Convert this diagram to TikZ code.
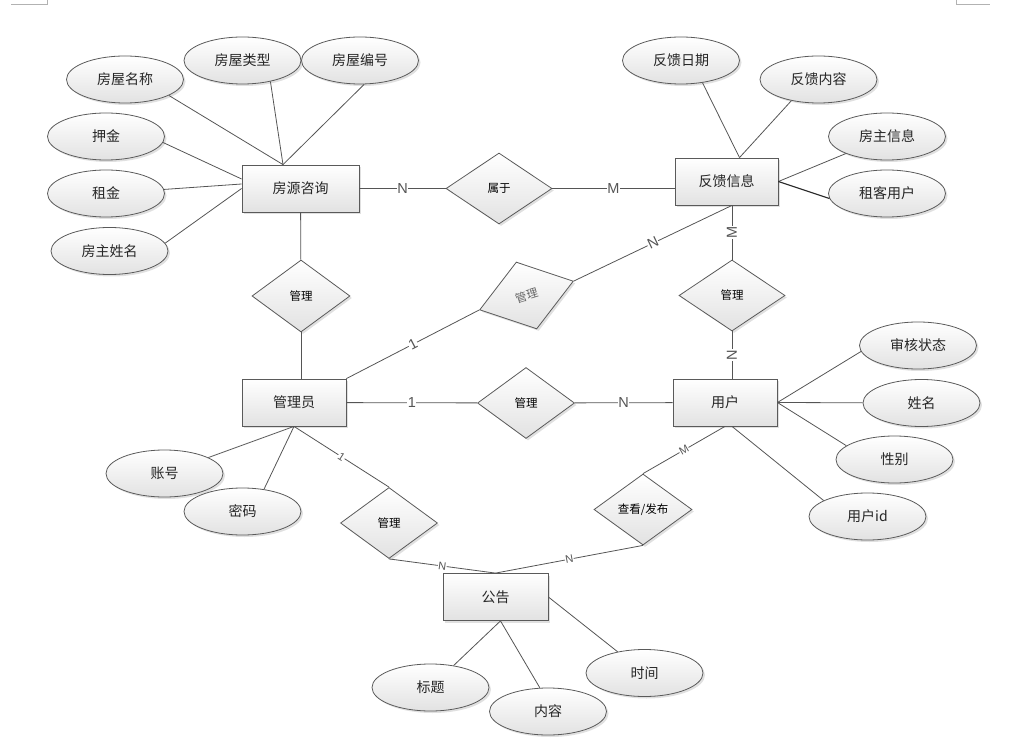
\documentclass[tikz,border=0pt]{standalone}
\usepackage{fontspec}
\setmainfont{Noto Sans CJK SC}
\newfontfamily\lat{Liberation Sans}
\usetikzlibrary{shapes.geometric,shadows}
\definecolor{lnc}{HTML}{555555}
\definecolor{bd}{HTML}{5A5A5A}
\definecolor{fl}{HTML}{E2E2E2}

\begin{document}
\begin{tikzpicture}[x=1pt,y=-1pt,line width=.8pt]
\tikzstyle{sh}=[draw=bd,top color=white,bottom color=fl,text=black!85,drop shadow={shadow xshift=2pt,shadow yshift=-2pt,fill=black!20,opacity=.6}]
\tikzstyle{ent}=[sh,rectangle,minimum width=104pt,minimum height=47pt,inner sep=0pt,font=\fontsize{14}{16}\selectfont]
\tikzstyle{att}=[sh,ellipse,minimum width=117pt,minimum height=47pt,inner sep=0pt,font=\fontsize{14}{16}\selectfont]
\tikzstyle{rel}=[sh,diamond,aspect=1.5,minimum width=98pt,minimum height=71pt,inner sep=0pt,text=black,font=\fontsize{11.5}{13}\selectfont]
\tikzstyle{lbl}=[fill=white,inner sep=.5pt,font=\lat\fontsize{14.5}{14}\selectfont]
\tikzstyle{sl}=[lbl,sloped,font=\lat\fontsize{11}{11}\selectfont]
\useasboundingbox (0,0) rectangle (1028,751);
\draw[black!30,line width=.6pt] (11,4) -- (47,4) -- (47,0);
\draw[black!30,line width=.6pt] (956,0) -- (956,4) -- (990,4);

\node[ent,minimum width=117pt] (fy) at (300.5,188.5) {房源咨询};
\node[ent,minimum width=103pt] (fk) at (726.5,181.5) {反馈信息};
\node[ent] (gly) at (294,402.5) {管理员};
\node[ent] (yh) at (725,402.5) {用户};
\node[ent,minimum width=105pt] (gg) at (495.5,597) {公告};

\node[rel,minimum width=106pt] (sy) at (499,188.5) {属于};
\node[rel,minimum height=72pt] (gl) at (301,296) {管理};
\node[rel,rotate=17,minimum height=70pt,text=black!60] (gt) at (526.5,295.5) {管理};
\node[rel,minimum width=106pt] (gr) at (732,295.5) {管理};
\node[rel,minimum width=97pt] (gm) at (526,403) {管理};
\node[rel,minimum width=97pt] (gb) at (389,523) {管理};
\node[rel] (ck) at (643,509.5) {查看/发布};

\node[att] (a1) at (125,79.5) {房屋名称};
\node[att] (a2) at (242.5,60.5) {房屋类型};
\node[att] (a3) at (360,60.5) {房屋编号};
\node[att] (a4) at (106,136.5) {押金};
\node[att] (a5) at (106,193.5) {租金};
\node[att] (a6) at (109.5,251) {房主姓名};
\node[att] (b1) at (681,60.5) {反馈日期};
\node[att] (b2) at (818.5,79.5) {反馈内容};
\node[att] (b3) at (887,136.5) {房主信息};
\node[att] (b4) at (887,193.5) {租客用户};
\node[att] (c1) at (918,345.5) {审核状态};
\node[att] (c2) at (921.5,403) {姓名};
\node[att] (c3) at (894.5,459.5) {性别};
\node[att] (c4) at (867.5,516.5) {用户id};
\node[att] (d1) at (164.5,473.5) {账号};
\node[att] (d2) at (242.5,511.5) {密码};
\node[att] (e1) at (430.5,687.5) {标题};
\node[att] (e2) at (548,711.5) {内容};
\node[att] (e3) at (644.5,673) {时间};

\draw[lnc] (a1.-20) -- ([xshift=-17.5pt]fy.north);
\draw[lnc] (a2.-37) -- ([xshift=-17.5pt]fy.north);
\draw[lnc] (a3.-80) -- ([xshift=-17.5pt]fy.north);
\draw[lnc] (a4.-6) -- ([yshift=9.5pt]fy.west);
\draw[lnc] (a5) -- ([yshift=4.5pt]fy.west);
\draw[lnc] (a6.8) -- (fy.west);
\draw[lnc] (b1.-46) -- ([xshift=13pt]fk.north);
\draw[lnc] (b2.-142) -- ([xshift=13pt]fk.north);
\draw[lnc] (b3) -- (fk.east);
\draw[black!85,line width=1.1pt] (b4.-175) -- (fk.east);
\draw[lnc] (c1.-174) -- (yh.east);
\draw[lnc] (c2) -- (yh.east);
\draw[lnc] (c3.164) -- (yh.east);
\draw[lnc] (c4.160) -- ([xshift=7pt]yh.south);
\draw[lnc] (d1) -- (gly.south);
\draw[lnc] (d2.46) -- (gly.south);
\draw[lnc] (e1) -- ([xshift=5pt]gg.south);
\draw[lnc] (e2.109) -- ([xshift=5pt]gg.south);
\draw[lnc] (e3) -- (gg.east);

\draw[lnc] (fy) -- node[lbl]{N} (sy);
\draw[lnc] (sy) -- node[lbl]{M} (sy -| fk.west);
\draw[lnc] (fy) -- (gl);
\draw[lnc] (gl.south) -- (gly.north -| gl.south);
\draw[lnc] (fk.south -| gr) -- node[lbl,rotate=90]{M} (gr.north);
\draw[lnc] (fk.south -| gr) -- node[lbl,sloped]{N} (gt.east);
\draw[lnc] (gly.north east) -- node[lbl,sloped]{1} (gt.west);
\draw[lnc] (gly) -- node[lbl]{1} (gm);
\draw[lnc] (gm) -- node[lbl]{N} (yh);
\draw[lnc] (gr.south) -- node[lbl,rotate=90]{N} (yh.north -| gr);
\draw[lnc] (gly.south) -- node[sl]{1} (gb.north);
\draw[lnc] (gb.south) -- node[sl]{N} (gg.north);
\draw[lnc] (ck.south) -- node[sl]{N} (gg.north);
\draw[lnc] (ck.north) -- node[sl]{M} (yh.south);
\end{tikzpicture}
\end{document}
